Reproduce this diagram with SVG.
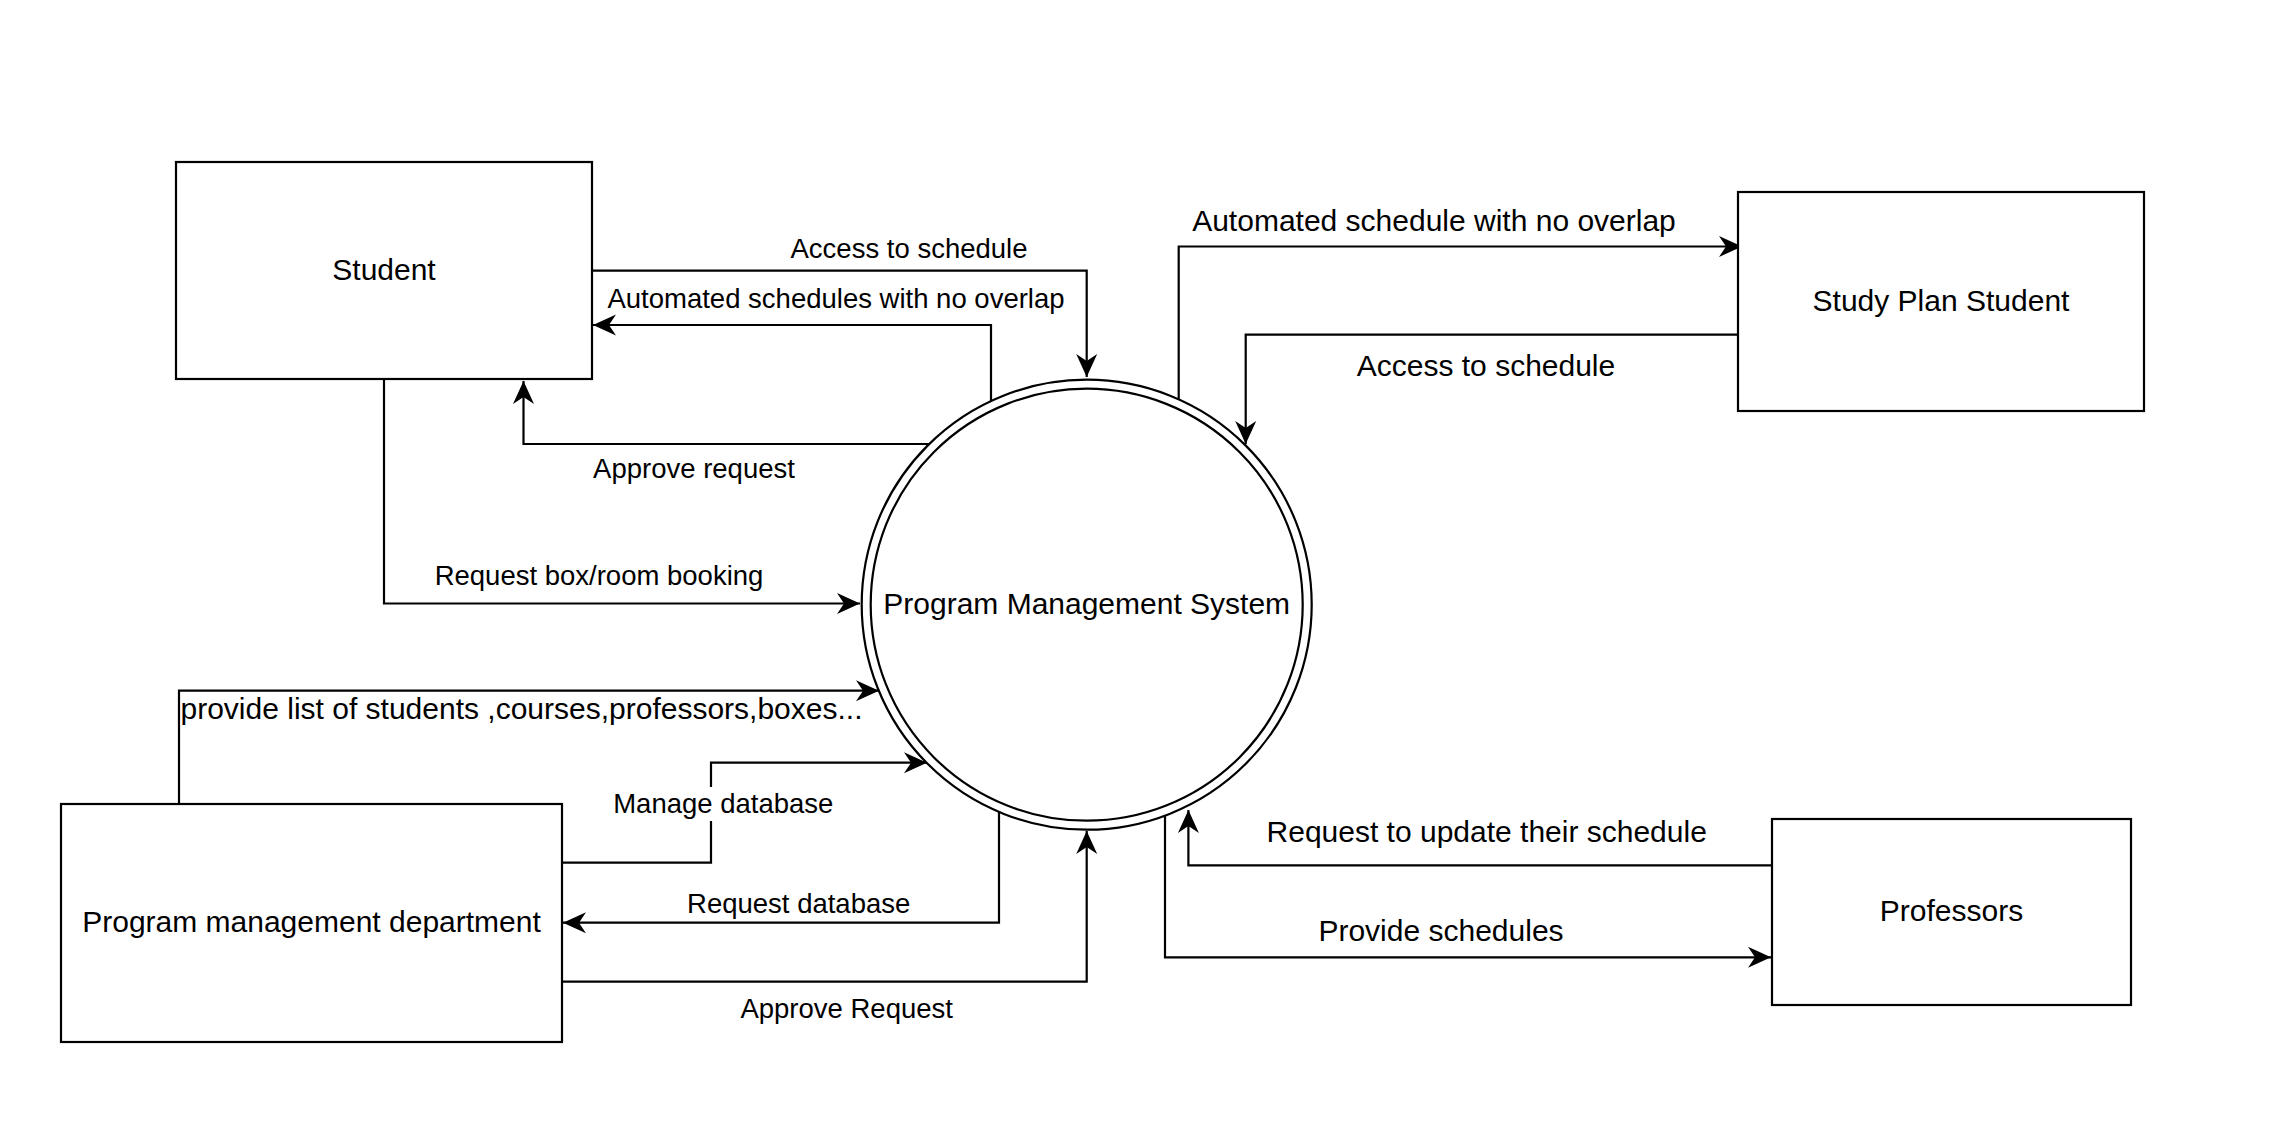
<svg xmlns="http://www.w3.org/2000/svg" width="2275" height="1132" viewBox="0 0 2275 1132">
<style>
.box{fill:#fff;stroke:#000;stroke-width:2.2}
.ring{fill:none;stroke:#000;stroke-width:2.2}
.edge{fill:none;stroke:#000;stroke-width:2.2;marker-end:url(#arr)}
.nt{font-family:"Liberation Sans",Arial,Helvetica,sans-serif;font-size:30px;fill:#000;text-anchor:middle;dominant-baseline:central}
.el{font-family:"Liberation Sans",Arial,Helvetica,sans-serif;font-size:27.5px;fill:#000;text-anchor:middle;dominant-baseline:central}
.el30{font-family:"Liberation Sans",Arial,Helvetica,sans-serif;font-size:30px;fill:#000;text-anchor:middle;dominant-baseline:central}
</style>
<defs>
<marker id="arr" markerUnits="userSpaceOnUse" markerWidth="28" markerHeight="28" viewBox="-25 -14 28 28" refX="0" refY="0" orient="auto">
<path d="M0,0 L-23,-10.5 L-16,0 L-23,10.5 Z" fill="#000"/>
</marker>
</defs>
<rect width="2275" height="1132" fill="#fff"/>

<g id="connectors">
<g id="e-access-student">
<path class="edge" d="M592,270.7 H1086.7 V377"/>
<text class="el" x="909" y="248">Access to schedule</text>
</g>
<g id="e-auto-student">
<path class="edge" d="M991,401 V325 H593"/>
<text class="el" x="836" y="298">Automated schedules with no overlap</text>
</g>
<g id="e-approve-student">
<path class="edge" d="M929,444 H523.5 V381"/>
<text class="el" x="694" y="468">Approve request</text>
</g>
<g id="e-booking">
<path class="edge" d="M384,379 V603.5 H860"/>
<text class="el" x="599" y="575">Request box/room booking</text>
</g>
<g id="e-auto-study">
<path class="edge" d="M1178.7,399 V246.5 H1742"/>
<text class="el30" x="1434" y="220">Automated schedule with no overlap</text>
</g>
<g id="e-access-study">
<path class="edge" d="M1738,334.7 H1245.7 V444"/>
<text class="el30" x="1486" y="365">Access to schedule</text>
</g>
<g id="e-provide-list">
<path class="edge" d="M179,804 V690.7 H879"/>
<text class="el30" x="180.5" y="708" style="text-anchor:start">provide list of students ,courses,professors,boxes...</text>
</g>
<g id="e-manage-db">
<path class="edge" d="M562,862.7 H711 V762.7 H927"/>
<rect x="608" y="787" width="231" height="34" fill="#fff"/>
<text class="el" x="723.3" y="803">Manage database</text>
</g>
<g id="e-request-db">
<path class="edge" d="M999,812 V922.7 H563"/>
<text class="el" x="798.7" y="903">Request database</text>
</g>
<g id="e-approve-pmd">
<path class="edge" d="M562,981.7 H1086.7 V831"/>
<text class="el" x="846.7" y="1008">Approve Request</text>
</g>
<g id="e-update-prof">
<path class="edge" d="M1772,865.3 H1188.4 V810"/>
<text class="el30" x="1486.7" y="831">Request to update their schedule</text>
</g>
<g id="e-provide-sched">
<path class="edge" d="M1165,815.6 V957.3 H1771"/>
<text class="el30" x="1441" y="930.5">Provide schedules</text>
</g>
</g>

<g id="node-student">
<rect class="box" x="176" y="162" width="416" height="217"/>
<text class="nt" x="384" y="269.5">Student</text>
</g>
<g id="node-study-plan">
<rect class="box" x="1738" y="192" width="406" height="219"/>
<text class="nt" x="1941" y="300.5">Study Plan Student</text>
</g>
<g id="node-pmd">
<rect class="box" x="61" y="804" width="501" height="238"/>
<text class="nt" x="311.5" y="921.5">Program management department</text>
</g>
<g id="node-professors">
<rect class="box" x="1772" y="819" width="359" height="186"/>
<text class="nt" x="1951.5" y="910.5">Professors</text>
</g>
<g id="node-pms">
<circle cx="1086.7" cy="604.7" r="225" fill="#fff" stroke="#000" stroke-width="2.2"/>
<circle class="ring" cx="1086.7" cy="604.7" r="216"/>
<text class="nt" x="1086.7" y="603">Program Management System</text>
</g>
</svg>
